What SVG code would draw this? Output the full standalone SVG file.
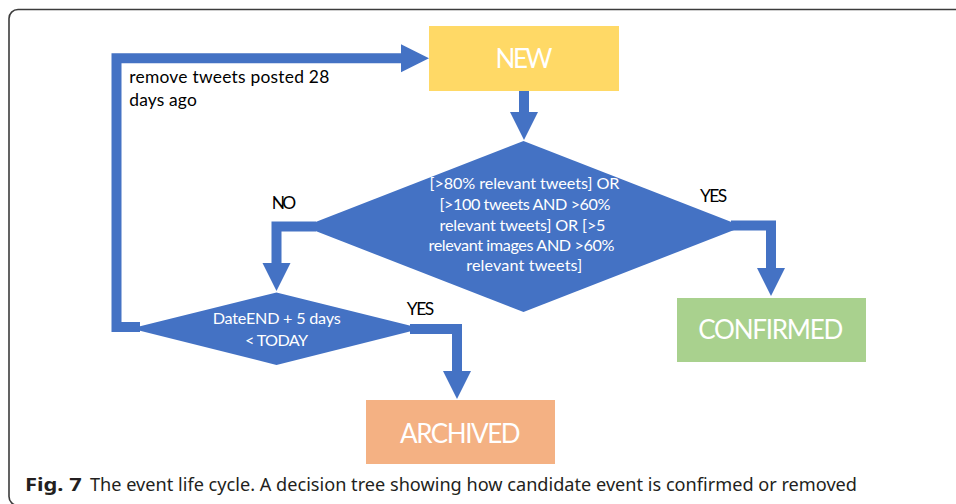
<svg xmlns="http://www.w3.org/2000/svg" width="956" height="504" viewBox="0 0 956 504">
  <style>
    .conn { fill: none; stroke: #4472C4; stroke-width: 10; stroke-linejoin: miter; stroke-linecap: butt; }
    .shape { fill: #4472C4; }
    .wt { fill: #FFFFFF; font-family: Lato, "Open Sans", sans-serif; text-anchor: middle; }
    .big { font-size: 26px; }
    .cond { font-size: 16.2px; }
    .lbl { fill: #000000; font-family: Lato, "Open Sans", sans-serif; font-size: 17.4px; }
    .cap { fill: #231F20; font-family: "Noto Sans", "Open Sans", sans-serif; font-size: 18px; }
  </style>
  <defs>
    <marker id="ah" markerUnits="userSpaceOnUse" markerWidth="30" markerHeight="30" refX="1" refY="14" orient="auto" overflow="visible">
      <path d="M0,0 L28,14 L0,28 Z" fill="#4472C4"/>
    </marker>
  </defs>

  <rect x="9" y="9.5" width="960" height="496" rx="9" ry="9" fill="#FFFFFF" stroke="#3C3C3C" stroke-width="1.6"/>

  <g id="connectors">
    <path class="conn" d="M140,327 H116.5 V58.3 H402" marker-end="url(#ah)"/>
    <path class="conn" d="M524,91 V113" marker-end="url(#ah)"/>
    <path class="conn" d="M316,226.5 H276.5 V264" marker-end="url(#ah)"/>
    <path class="conn" d="M731,225.5 H771 V269" marker-end="url(#ah)"/>
    <path class="conn" d="M410,329 H457 V372" marker-end="url(#ah)"/>
  </g>

  <g id="node-new">
    <rect x="429" y="26" width="190" height="65" fill="#FFD966"/>
    <text class="wt big" x="524" y="67.5" textLength="57">NEW</text>
  </g>

  <g id="node-decision-relevance">
    <polygon class="shape" points="523.5,141 743,226.5 523.5,312 304,226.5"/>
    <text class="wt cond" x="524.5" y="189.3" textLength="190">[&gt;80% relevant tweets] OR</text>
    <text class="wt cond" x="525" y="210" textLength="171">[&gt;100 tweets AND &gt;60%</text>
    <text class="wt cond" x="522.5" y="230.7" textLength="166">relevant tweets] OR [&gt;5</text>
    <text class="wt cond" x="521.5" y="250.7" textLength="186">relevant images AND &gt;60%</text>
    <text class="wt cond" x="524.2" y="271" textLength="116">relevant tweets]</text>
  </g>

  <g id="node-decision-date">
    <polygon class="shape" points="276.5,292.5 421.7,328.5 276.5,365 131,328.5"/>
    <text class="wt cond" x="276.7" y="324.3" textLength="128">DateEND + 5 days</text>
    <text class="wt cond" x="276.5" y="345.7" textLength="63">&lt; TODAY</text>
  </g>

  <g id="node-confirmed">
    <rect x="677" y="298" width="189" height="64" fill="#A9D18E"/>
    <text class="wt big" x="770.8" y="339.3" textLength="145">CONFIRMED</text>
  </g>

  <g id="node-archived">
    <rect x="366" y="400" width="189" height="64" fill="#F4B183"/>
    <text class="wt big" x="460.3" y="442.5" textLength="120.7">ARCHIVED</text>
  </g>

  <g id="labels">
    <text class="lbl" x="129.3" y="83" textLength="200">remove tweets posted 28</text>
    <text class="lbl" x="129.3" y="106" textLength="67.5">days ago</text>
    <text class="lbl" x="271.7" y="209.3" textLength="24.5">NO</text>
    <text class="lbl" x="700" y="201.7" textLength="27.3">YES</text>
    <text class="lbl" x="406.7" y="315" textLength="27.6">YES</text>
  </g>

  <g id="caption">
    <text class="cap" x="25" y="491" textLength="56.7" lengthAdjust="spacingAndGlyphs" font-weight="bold">Fig. 7</text>
    <text class="cap" x="90" y="491" textLength="767" lengthAdjust="spacingAndGlyphs">The event life cycle. A decision tree showing how candidate event is confirmed or removed</text>
  </g>
</svg>
